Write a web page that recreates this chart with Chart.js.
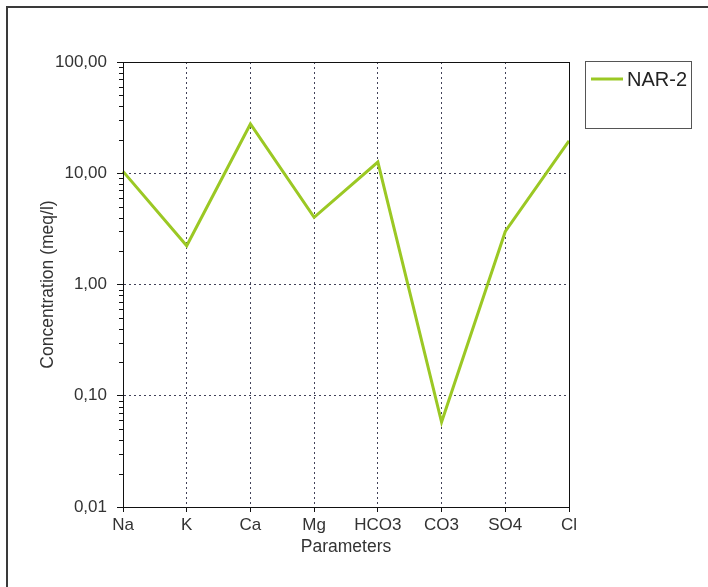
<!DOCTYPE html>
<html>
<head>
<meta charset="utf-8">
<script src="https://cdn.jsdelivr.net/npm/chart.js@4/dist/chart.umd.min.js"></script>
<style>
  html, body { margin: 0; padding: 0; background: #fff; }
  #wrap { width: 708px; height: 587px; }
</style>
</head>
<body>
<div id="wrap"><canvas id="c" width="708" height="587"></canvas></div>
<script>
// Ion concentrations for sample NAR-2 (meq/l)
const parameters = ['Na', 'K', 'Ca', 'Mg', 'HCO3', 'CO3', 'SO4', 'Cl'];
const nar2 = [10.4, 2.23, 27.7, 4.02, 12.6, 0.058, 3.0, 19.5];
const yTickValues = [0.01, 0.1, 1, 10, 100];
const seriesName = 'NAR-2';
const yTitle = 'Concentration (meq/l)';
const xTitle = 'Parameters';

const FONT = "'Liberation Sans', Arial, sans-serif";
const TEXT = '#333333';
const LINE = '#9bc824';
const GRID = 'rgba(45,45,70,0.9)';

const fmtComma = v => Number(v).toFixed(2).replace('.', ',');

// Plot frame, minor log ticks, legend box and the outer page frame
const decorations = {
  id: 'decorations',
  afterDraw(chart) {
    const { ctx, chartArea: a, scales: { y } } = chart;
    ctx.save();

    // frame round the plot area
    ctx.strokeStyle = '#111';
    ctx.lineWidth = 1;
    ctx.setLineDash([]);
    ctx.strokeRect(Math.round(a.left) + 0.5, Math.round(a.top) + 0.5,
                   Math.round(a.right - a.left), Math.round(a.bottom - a.top));

    // minor ticks between decades on the log axis
    ctx.beginPath();
    for (let d = 0; d < yTickValues.length - 1; d++) {
      const base = yTickValues[d];
      for (let m = 2; m <= 9; m++) {
        const py = Math.round(y.getPixelForValue(base * m)) + 0.5;
        ctx.moveTo(a.left - 4, py);
        ctx.lineTo(a.left, py);
      }
    }
    ctx.stroke();

    // legend box
    const bx = 585.5, by = 61.5, bw = 106, bh = 67;
    ctx.strokeStyle = '#555';
    ctx.lineWidth = 1;
    ctx.strokeRect(bx, by, bw, bh);
    ctx.strokeStyle = LINE;
    ctx.lineWidth = 3;
    ctx.beginPath();
    ctx.moveTo(591, 79);
    ctx.lineTo(623, 79);
    ctx.stroke();
    ctx.fillStyle = '#222';
    ctx.font = "20px " + FONT;
    ctx.textBaseline = 'middle';
    ctx.textAlign = 'left';
    ctx.fillText(seriesName, 627, 80);

    // outer frame (left and top edges)
    ctx.strokeStyle = '#3a3a3a';
    ctx.lineWidth = 2;
    ctx.beginPath();
    ctx.moveTo(7, 587);
    ctx.lineTo(7, 7);
    ctx.lineTo(708, 7);
    ctx.stroke();

    ctx.restore();
  }
};

new Chart(document.getElementById('c'), {
  type: 'line',
  data: {
    labels: parameters,
    datasets: [{
      label: seriesName,
      data: nar2,
      borderColor: LINE,
      backgroundColor: LINE,
      borderWidth: 3,
      pointRadius: 0,
      tension: 0,
      fill: false
    }]
  },
  options: {
    responsive: false,
    animation: false,
    devicePixelRatio: 1,
    layout: { padding: { top: 62, right: 139, left: 0, bottom: 0 } },
    plugins: {
      legend: { display: false },
      tooltip: { enabled: false }
    },
    scales: {
      x: {
        type: 'category',
        offset: false,
        afterFit: s => { s.height = 80; },
        grid: {
          color: GRID,
          lineWidth: 1,
          drawTicks: true,
          tickLength: 5,
          tickColor: '#111',
          tickBorderDash: []
        },
        border: { display: true, color: '#111', width: 1, dash: [2, 3] },
        ticks: {
          color: TEXT,
          font: { family: FONT, size: 17 },
          padding: 3,
          maxRotation: 0,
          autoSkip: false
        },
        title: {
          display: true,
          text: xTitle,
          color: TEXT,
          font: { family: FONT, size: 17.5 },
          padding: { top: 0, bottom: 29.5 }
        }
      },
      y: {
        type: 'logarithmic',
        min: 0.01,
        max: 100,
        afterFit: s => { s.width = 123; },
        afterBuildTicks: s => { s.ticks = yTickValues.map(v => ({ value: v })); },
        grid: {
          color: GRID,
          lineWidth: 1,
          drawTicks: true,
          tickLength: 6,
          tickColor: '#111',
          tickBorderDash: []
        },
        border: { display: true, color: '#111', width: 1, dash: [2, 3] },
        ticks: {
          color: TEXT,
          font: { family: FONT, size: 17 },
          padding: 10,
          callback: v => fmtComma(v)
        },
        title: {
          display: true,
          text: yTitle,
          color: TEXT,
          font: { family: FONT, size: 17.5 },
          padding: { top: 37.5, bottom: 0 }
        }
      }
    }
  },
  plugins: [decorations]
});
</script>
</body>
</html>
